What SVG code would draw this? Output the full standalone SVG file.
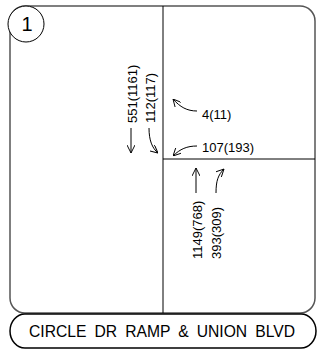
<svg xmlns="http://www.w3.org/2000/svg" width="320" height="350" viewBox="0 0 320 350">
<defs>
<style>
.frame{fill:none;stroke:#555;stroke-width:1.5}
.ln{fill:none;stroke:#000;stroke-width:1}
.t{font-family:"Liberation Sans",Arial,sans-serif;font-size:13px;fill:#000}
.arr{fill:none;stroke:#000;stroke-width:1;marker-end:url(#ah)}
</style>
<marker id="ah" viewBox="0 0 10 10" refX="10" refY="5" markerWidth="8" markerHeight="8" markerUnits="userSpaceOnUse" orient="auto">
<path d="M0,0 L10,5 L0,10" fill="none" stroke="#000" stroke-width="1.2"/>
</marker>
</defs>
<rect id="bg" x="0" y="0" width="320" height="350" fill="#fff"/>
<g id="frame">
<rect class="frame" x="10" y="6" width="305" height="307" rx="15" ry="15"/>
</g>
<g id="badge">
<circle cx="26" cy="24" r="18" fill="#fff" stroke="#000" stroke-width="1"/>
<text x="27" y="31" text-anchor="middle" font-family="Liberation Sans,Arial,sans-serif" font-size="20">1</text>
</g>
<g id="roads">
<line class="ln" x1="163" y1="6" x2="163" y2="313"/>
<line class="ln" x1="163" y1="159" x2="315" y2="159"/>
</g>
<g id="connectors">
<path class="arr" d="M131,128 L131,153"/>
<path class="arr" d="M149,128 C149,140 152,148 158,153"/>
<path class="arr" d="M197,111 C187,111 180,107 173,99"/>
<path class="arr" d="M197,146 C187,146 180,149 173,156"/>
<path class="arr" d="M196,193 L196,168"/>
<path class="arr" d="M216,193 C216,181 218,175 224,169"/>
</g>
<g id="labels">
<text class="t" transform="translate(137,123) rotate(-90)">551(1161)</text>
<text class="t" transform="translate(155,123) rotate(-90)">112(117)</text>
<text class="t" x="202" y="119">4(11)</text>
<text class="t" x="202" y="152">107(193)</text>
<text class="t" transform="translate(202,259) rotate(-90)">1149(768)</text>
<text class="t" transform="translate(221,259) rotate(-90)">393(309)</text>
</g>
<g id="title">
<path d="M25,314 H301 A15,17 0 0 1 301,348 H25 A15,17 0 0 1 25,314 Z" fill="#fff" stroke="#000" stroke-width="1.5"/>
<text x="162" y="337" text-anchor="middle" font-family="Liberation Sans,Arial,sans-serif" font-size="17" textLength="266" lengthAdjust="spacingAndGlyphs" word-spacing="4">CIRCLE DR RAMP &amp; UNION BLVD</text>
</g>
</svg>
